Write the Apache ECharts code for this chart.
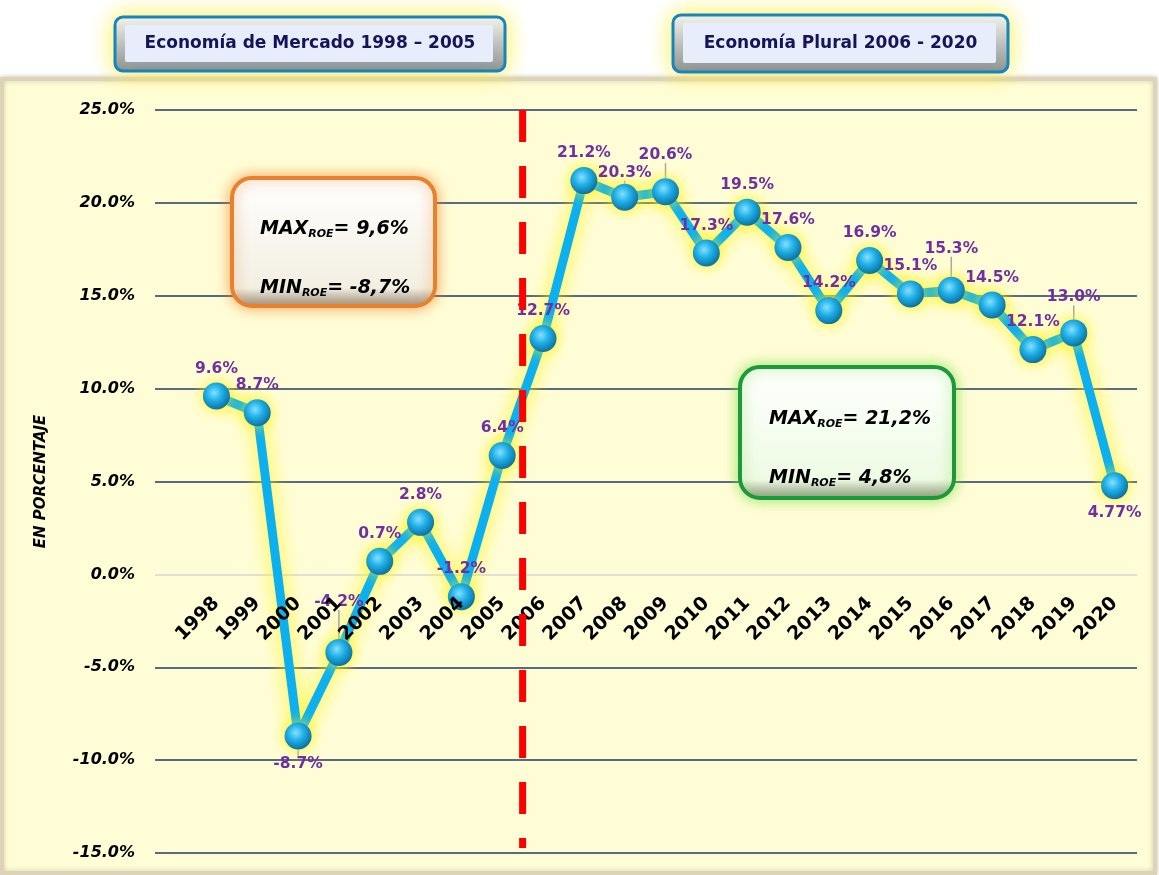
<!DOCTYPE html>
<html><head><meta charset="utf-8">
<script src="https://cdn.jsdelivr.net/npm/echarts@6/dist/echarts.min.js"></script>
<style>html,body{margin:0;padding:0;background:#fff}#c{width:1159px;height:875px}</style>
</head><body><div id="c"></div>
<script>
// ---- data ----
const years = ['1998','1999','2000','2001','2002','2003','2004','2005','2006','2007','2008','2009','2010','2011','2012','2013','2014','2015','2016','2017','2018','2019','2020'];
const roe = [9.6, 8.7, -8.7, -4.2, 0.7, 2.8, -1.2, 6.4, 12.7, 21.2, 20.3, 20.6, 17.3, 19.5, 17.6, 14.2, 16.9, 15.1, 15.3, 14.5, 12.1, 13.0, 4.77];
const pointLabels = ['9.6%','8.7%','-8.7%','-4.2%','0.7%','2.8%','-1.2%','6.4%','12.7%','21.2%','20.3%','20.6%','17.3%','19.5%','17.6%','14.2%','16.9%','15.1%','15.3%','14.5%','12.1%','13.0%','4.77%'];
const yMin = -15, yMax = 25, yStep = 5;
const periodTitles = ['Economía de Mercado 1998 – 2005', 'Economía Plural 2006 - 2020'];
const statsMercado = ['= 9,6%', '= -8,7%'];
const statsPlural = ['= 21,2%', '= 4,8%'];
const splitIndex = 7; // last year of first period (2005)

// ---- styling helpers ----
const FONT = 'DejaVu Sans';
const below = {2: true, 22: true};
const extraDy = {3: -23, 10: 3, 11: -9, 18: -14, 21: -8};
const leader = {2: true, 3: true, 10: true, 11: true, 18: true, 21: true};

const chart = echarts.init(document.getElementById('c'), null, {renderer: 'canvas'});

const gridColors = [];
for (let v = yMin; v <= yMax; v += yStep) gridColors.push(v === 0 ? '#d6d6d6' : '#1f3864');

const seriesData = roe.map((v, i) => ({
  value: v,
  label: { position: below[i] ? 'bottom' : 'top' },
  labelLine: { show: !!leader[i] }
}));

const option = {
  backgroundColor: '#ffffff',
  textStyle: { fontFamily: FONT },
  animation: false,
  grid: [
    { left: 155, right: 22, top: 110, bottom: 22, containLabel: false, outerBoundsMode: 'none' },
    { left: 196, right: 24, top: 110, bottom: 22, containLabel: false, outerBoundsMode: 'none' }
  ],
  xAxis: [
    { type: 'category', gridIndex: 0, data: years, show: false },
    { type: 'category', gridIndex: 1, data: years, z: 5, position: 'bottom', offset: 0,
      axisLine: { show: false, onZero: false }, axisTick: { show: false },
      axisLabel: { interval: 0, rotate: 45, margin: 26, fontSize: 19, fontWeight: 'bold', color: '#000', fontFamily: FONT } }
  ],
  yAxis: [
    { type: 'value', gridIndex: 0, min: yMin, max: yMax, interval: yStep,
      axisLine: { show: false }, axisTick: { show: false },
      axisLabel: { margin: 20, fontSize: 16, fontWeight: 'bold', fontStyle: 'italic', color: '#000', fontFamily: FONT,
        formatter: v => v.toFixed(1) + '%' },
      splitLine: { show: true, lineStyle: { color: gridColors, width: 1.5 } },
      name: 'EN PORCENTAJE', nameLocation: 'middle', nameGap: 106, nameRotate: 90,
      nameTextStyle: { fontSize: 15, fontWeight: 'bold', fontStyle: 'italic', color: '#000', fontFamily: FONT } },
    { type: 'value', gridIndex: 1, min: yMin, max: yMax, interval: yStep,
      axisLine: { show: false }, axisTick: { show: false }, axisLabel: { show: false }, splitLine: { show: false } }
  ],
  series: [{
    type: 'line', xAxisIndex: 1, yAxisIndex: 1, z: 3,
    data: seriesData,
    symbol: 'circle', symbolSize: 27,
    lineStyle: { color: '#0db0ee', width: 9, shadowColor: 'rgba(255,242,0,0.95)', shadowBlur: 18 },
    itemStyle: {
      color: { type: 'radial', x: 0.42, y: 0.38, r: 0.65,
        colorStops: [{ offset: 0, color: '#86e0ff' }, { offset: 0.45, color: '#1fb0e8' }, { offset: 1, color: '#0a6d9c' }] },
      shadowColor: 'rgba(255,242,0,0.9)', shadowBlur: 14
    },
    label: { show: true, distance: 6, fontSize: 15.5, fontWeight: 'bold', color: '#7030a0', fontFamily: FONT,
      formatter: p => pointLabels[p.dataIndex] },
    labelLine: { show: false, lineStyle: { color: '#a6a6a6', width: 1.5 } },
    labelLayout: p => (extraDy[p.dataIndex] ? { dy: extraDy[p.dataIndex] } : {}),
    emphasis: { disabled: true }
  }]
};
chart.setOption(option);

// place the category axis on the zero line (offset from the grid's bottom edge)
const yZeroPx = chart.convertToPixel({ yAxisIndex: 1 }, 0);
const yMinPx = chart.convertToPixel({ yAxisIndex: 1 }, yMin);
chart.setOption({ xAxis: [{}, { offset: -(yMinPx - yZeroPx) }] });

// ---- decorations ----
const xa = chart.convertToPixel({ xAxisIndex: 1 }, years[splitIndex]);
const xb = chart.convertToPixel({ xAxisIndex: 1 }, years[splitIndex + 1]);
const xSplit = (xa + xb) / 2;
const yTop = chart.convertToPixel({ yAxisIndex: 1 }, yMax);
const yBot = yMinPx - 5;

const measureCtx = document.createElement('canvas').getContext('2d');
function textWidth(str, font) { measureCtx.font = font; return measureCtx.measureText(str).width; }

function titleBox(x, y, w, h, text) {
  return [
    { type: 'rect', z: 20, shape: { x, y, width: w, height: h, r: 8 },
      style: { fill: { type: 'linear', x: 0, y: 0, x2: 0, y2: 1, colorStops: [{ offset: 0, color: '#f4f6ff' }, { offset: 1, color: '#7d8598' }] },
        stroke: '#1585c0', lineWidth: 3, shadowColor: 'rgba(255,240,60,0.9)', shadowBlur: 22 } },
    { type: 'rect', z: 21, shape: { x: x + 10, y: y + 8, width: w - 22, height: h - 17, r: 2 },
      style: { fill: '#e8edfb' } },
    { type: 'text', z: 22, x: x + w / 2, y: y + h / 2,
      style: { text, fill: '#14145a', font: 'bold 17px "DejaVu Sans"', align: 'center', verticalAlign: 'middle' } }
  ];
}

const BIG = 'italic bold 19px "DejaVu Sans"';
const SMALL = 'italic bold 11px "DejaVu Sans"';
function statLine(word, val, x, yBase) {
  const w1 = textWidth(word, BIG);
  const w2 = textWidth('ROE', SMALL);
  return [
    { type: 'text', z: 22, x, y: yBase, style: { text: word, font: BIG, fill: '#000', verticalAlign: 'alphabetic' } },
    { type: 'text', z: 22, x: x + w1, y: yBase + 9, style: { text: 'ROE', font: SMALL, fill: '#000', verticalAlign: 'alphabetic' } },
    { type: 'text', z: 22, x: x + w1 + w2, y: yBase, style: { text: val, font: BIG, fill: '#000', verticalAlign: 'alphabetic' } }
  ];
}

function statBox(x, y, w, h, stroke, glow, fillTop, fillBot, vals, tx, yb1, yb2) {
  return [
    { type: 'rect', z: 20, shape: { x, y, width: w, height: h, r: 20 },
      style: { fill: { type: 'linear', x: 0, y: 0, x2: 0, y2: 1, colorStops: [{ offset: 0, color: fillTop }, { offset: 0.85, color: fillBot }, { offset: 1, color: '#8a8a80' }] },
        stroke, lineWidth: 4, shadowColor: glow, shadowBlur: 14 } },
    ...statLine('MAX', vals[0], tx, yb1),
    ...statLine('MIN', vals[1], tx, yb2)
  ];
}

const elements = [
  { type: 'rect', z: -10, shape: { x: 2, y: 79, width: 1153, height: 794 },
    style: { fill: '#fffdd6', stroke: '#ddd3b8', lineWidth: 4, shadowColor: 'rgba(120,110,80,0.35)', shadowBlur: 5 } },
  { type: 'line', z: 6, shape: { x1: xSplit, y1: yTop, x2: xSplit, y2: yBot },
    style: { stroke: '#ff0000', lineWidth: 7, lineDash: [32, 24] } },
  ...titleBox(115, 17, 390, 54, periodTitles[0]),
  ...titleBox(673, 15, 335, 57, periodTitles[1]),
  ...statBox(232, 178, 203, 128, '#e8802e', 'rgba(240,130,40,0.7)', '#ffffff', '#f3efe2', statsMercado, 260, 220, 279),
  ...statBox(740, 367, 214, 131, '#1a9a3c', 'rgba(120,220,60,0.7)', '#ffffff', '#eefbe4', statsPlural, 769, 410, 469)
];

chart.setOption({ graphic: { elements } });
</script>
</body></html>
